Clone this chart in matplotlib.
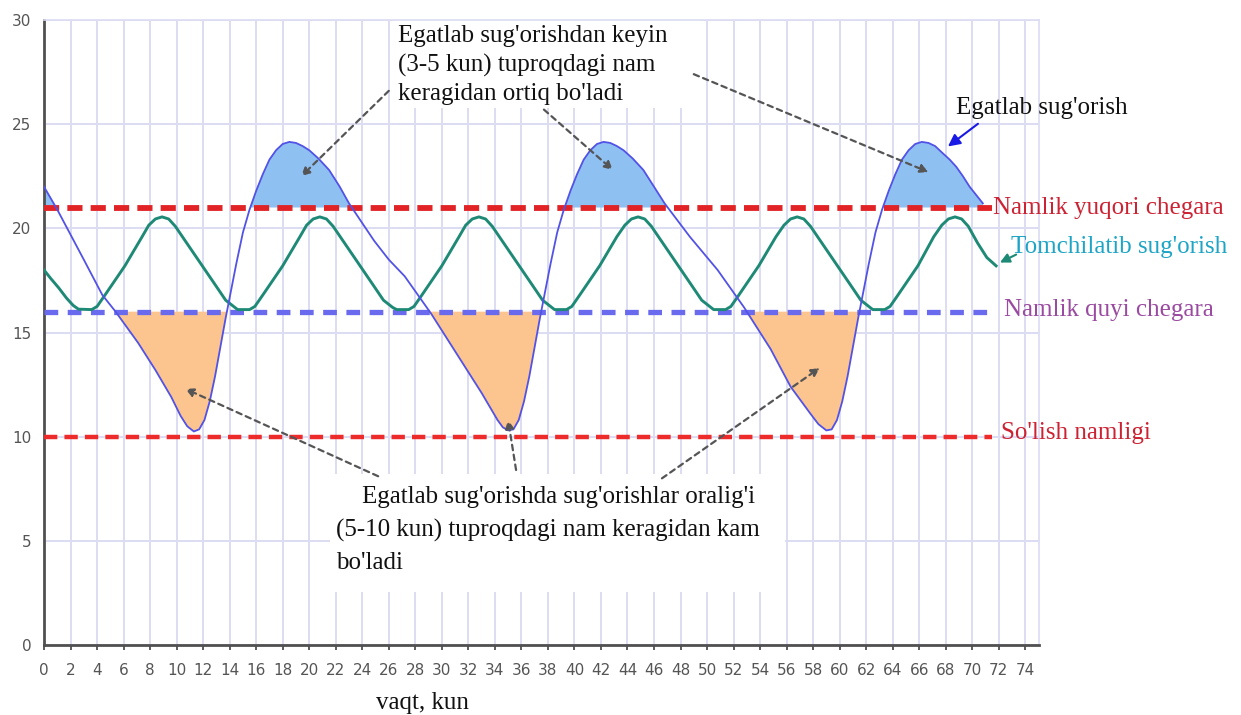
import matplotlib
matplotlib.use("Agg")
import matplotlib.pyplot as plt
from matplotlib.patches import Rectangle
import numpy as np

# ---------------- data ----------------
furrow_x = [0.0, 1.0, 2.0, 3.0, 4.4, 5.4, 7.1, 8.4, 9.6, 10.3, 10.8, 11.3, 11.7, 12.1, 12.5,
            12.9, 13.3, 13.7, 14.1, 14.5, 15.0, 15.5, 16.0, 16.5, 17.0, 17.5, 18.0, 18.5,
            19.0, 19.5, 20.0, 20.7, 21.5, 22.3, 23.0, 24.9, 26.0, 27.2, 28.2, 29.2, 30.5,
            31.7, 33.0, 34.2, 34.6, 35.0, 35.4, 35.8, 36.2, 36.6, 37.0, 37.4, 37.8, 38.2,
            38.7, 39.2, 39.7, 40.2, 40.7, 41.2, 41.7, 42.2, 42.7, 43.2, 43.7, 44.4, 45.2,
            46.0, 46.8, 48.7, 50.8, 52.8, 53.5, 54.8, 56.3, 57.8, 58.4, 59.0, 59.4, 59.8,
            60.2, 60.6, 61.0, 61.4, 61.8, 62.2, 62.7, 63.2, 63.7, 64.2, 64.7, 65.2, 65.7,
            66.2, 66.7, 67.2, 67.7, 68.3, 68.8, 69.3, 69.8, 70.3, 70.8]
furrow_y = [22.0, 20.9, 19.7, 18.5, 16.8, 16.0, 14.5, 13.2, 11.9, 11.0, 10.5, 10.25, 10.35, 10.8, 11.7,
            12.9, 14.3, 15.7, 17.0, 18.3, 19.8, 20.9, 21.8, 22.6, 23.3, 23.75, 24.05, 24.15,
            24.1, 23.95, 23.75, 23.35, 22.8, 22.0, 21.2, 19.4, 18.5, 17.7, 16.8, 15.9, 14.6,
            13.4, 12.1, 10.8, 10.45, 10.3, 10.35, 10.8, 11.7, 12.9, 14.3, 15.7, 17.0, 18.3,
            19.8, 20.9, 21.8, 22.6, 23.3, 23.75, 24.05, 24.15, 24.1, 23.95, 23.75, 23.35, 22.8,
            22.0, 21.2, 19.6, 18.0, 16.2, 15.5, 14.2, 12.4, 11.1, 10.6, 10.3, 10.35, 10.8,
            11.7, 12.9, 14.3, 15.7, 17.0, 18.3, 19.8, 20.9, 21.8, 22.6, 23.3, 23.75, 24.05,
            24.15, 24.1, 23.95, 23.65, 23.3, 22.95, 22.5, 22.0, 21.6, 21.2]

drip_x = [0.0, 0.5, 1.1, 1.7, 2.2, 2.6, 3.6, 4.0, 4.6, 6.1, 7.4, 7.9, 8.4, 8.9, 9.4, 9.9,
          11.4, 12.9, 13.7, 14.4, 14.6, 15.5, 15.9, 16.5, 18.0, 19.3, 19.8, 20.3, 20.8, 21.3,
          21.8, 23.3, 24.8, 25.6, 26.3, 26.6, 27.5, 27.9, 28.5, 30.0, 31.3, 31.8, 32.3, 32.8,
          33.3, 33.8, 35.3, 36.8, 37.6, 38.3, 38.5, 39.4, 39.8, 40.4, 41.9, 43.2, 43.8, 44.3,
          44.8, 45.3, 45.8, 47.3, 48.8, 49.6, 50.3, 50.5, 51.4, 51.8, 52.4, 53.9, 55.2, 55.8,
          56.3, 56.8, 57.3, 57.8, 59.3, 60.8, 61.6, 62.3, 62.5, 63.4, 63.8, 64.4, 65.9, 67.1,
          67.7, 68.2, 68.7, 69.2, 69.7, 70.4, 71.1, 71.8]
drip_y = [18.0, 17.6, 17.15, 16.65, 16.3, 16.12, 16.1, 16.25, 16.8, 18.2, 19.6, 20.15, 20.45, 20.55, 20.45, 20.1,
          18.7, 17.3, 16.55, 16.2, 16.1, 16.1, 16.25, 16.8, 18.2, 19.6, 20.15, 20.45, 20.55, 20.45,
          20.1, 18.7, 17.3, 16.55, 16.2, 16.1, 16.1, 16.25, 16.8, 18.2, 19.6, 20.15, 20.45, 20.55,
          20.45, 20.1, 18.7, 17.3, 16.55, 16.2, 16.1, 16.1, 16.25, 16.8, 18.2, 19.6, 20.15, 20.45,
          20.55, 20.45, 20.1, 18.7, 17.3, 16.55, 16.2, 16.1, 16.1, 16.25, 16.8, 18.2, 19.6, 20.15,
          20.45, 20.55, 20.45, 20.1, 18.7, 17.3, 16.55, 16.2, 16.1, 16.1, 16.25, 16.8, 18.2, 19.6,
          20.15, 20.45, 20.55, 20.45, 20.1, 19.3, 18.6, 18.2]

upper_limit = 21
lower_limit = 16
wilting = 10
line_end = 71.5

x_ticks = list(range(0, 75, 2))
y_ticks = [0, 5, 10, 15, 20, 25, 30]

label_furrow = "Egatlab sug'orish"
label_upper = "Namlik yuqori chegara"
label_drip = "Tomchilatib sug'orish"
label_lower = "Namlik quyi chegara"
label_wilt = "So'lish namligi"
note_top = "Egatlab sug'orishdan keyin\n(3-5 kun) tuproqdagi nam\nkeragidan ortiq bo'ladi"
note_bottom_1 = "Egatlab sug'orishda sug'orishlar oralig'i"
note_bottom_2 = "(5-10 kun) tuproqdagi nam keragidan kam"
note_bottom_3 = "bo'ladi"
x_label = "vaqt, kun"

# ---------------- figure ----------------
serif = ["Liberation Serif", "DejaVu Serif"]
fig = plt.figure(figsize=(12.41, 7.15), dpi=100)
ax = fig.add_axes([0.03546, 0.0979, 0.8014, 0.8741])
ax.set_xlim(0, 75)
ax.set_ylim(0, 30)
ax.set_axisbelow(True)

grid_col = "#dcdcf3"
ax.set_xticks(x_ticks)
ax.set_yticks(y_ticks)
ax.grid(True, color=grid_col, lw=1.4)
for s in ("top", "right"):
    ax.spines[s].set_color(grid_col)
    ax.spines[s].set_linewidth(1.2)
for s in ("left", "bottom"):
    ax.spines[s].set_color("#505050")
    ax.spines[s].set_linewidth(2.0)
ax.tick_params(axis="x", length=3.6, width=1.3, color="#505050", pad=9,
               labelsize=11, labelcolor="#555555")
ax.tick_params(axis="y", length=0, pad=9, labelsize=11, labelcolor="#555555")
for lab in ax.get_xticklabels() + ax.get_yticklabels():
    lab.set_family(["Liberation Sans Narrow", "DejaVu Sans"])

# white boxes behind notes
ax.add_patch(Rectangle((0.353, 0.859), 0.307, 0.17, transform=ax.transAxes,
                       facecolor="white", edgecolor="none", zorder=1, clip_on=False))
ax.add_patch(Rectangle((0.2876, 0.0848), 0.4575, 0.189, transform=ax.transAxes,
                       facecolor="white", edgecolor="none", zorder=1))

fx = np.array(furrow_x)
fy = np.array(furrow_y)
ax.fill_between(fx, fy, upper_limit, where=fy >= upper_limit, interpolate=True,
                facecolor="#8fc0f2", edgecolor="none", zorder=2)
ax.fill_between(fx, fy, lower_limit, where=fy <= lower_limit, interpolate=True,
                facecolor="#fcc48f", edgecolor="none", zorder=2)

# limit lines
ax.hlines(upper_limit, 0, line_end, colors="#e22326", lw=4.2,
          linestyles=(0, (2.6, 1.4)), zorder=3)
ax.hlines(lower_limit, 0, line_end, colors="#6a6aee", lw=3.8,
          linestyles=(0, (2.6, 1.8)), zorder=3)
ax.hlines(wilting, 0, line_end, colors="#ee2b2b", lw=3.2,
          linestyles=(0, (3.0, 1.6)), zorder=3)

ax.plot(drip_x, drip_y, color="#1e8a76", lw=2.1, zorder=4, solid_joinstyle="round")
ax.plot(furrow_x, furrow_y, color="#5252e6", lw=1.3, zorder=5, solid_joinstyle="round")

# right labels
fs = 18
ax.text(68.8, 25.8, label_furrow, family=serif, fontsize=fs, color="#111111",
        va="center", ha="left", clip_on=False)
ax.text(71.6, 21.0, label_upper, family=serif, fontsize=fs, color="#cc2233",
        va="center", ha="left", clip_on=False)
ax.text(72.9, 19.1, label_drip, family=serif, fontsize=fs, color="#1ea5c5",
        va="center", ha="left", clip_on=False)
ax.text(72.4, 16.1, label_lower, family=serif, fontsize=fs, color="#9a4aa0",
        va="center", ha="left", clip_on=False)
ax.text(72.2, 10.2, label_wilt, family=serif, fontsize=fs, color="#cc2233",
        va="center", ha="left", clip_on=False)

ax.annotate("", xy=(68.0, 23.85), xytext=(70.6, 25.1),
            arrowprops=dict(arrowstyle="-|>", color="#1a1ae6", lw=1.5,
                            mutation_scale=18), zorder=6, annotation_clip=False)
ax.annotate("", xy=(71.9, 18.3), xytext=(73.5, 18.8),
            arrowprops=dict(arrowstyle="-|>", color="#1e8a76", lw=1.5,
                            mutation_scale=14), zorder=6, annotation_clip=False)

# notes
ax.text(26.7, 29.75, note_top, family=serif, fontsize=18, color="#111111",
        va="top", ha="left", linespacing=1.37, zorder=6, clip_on=False)
ax.text(24.0, 7.1, note_bottom_1, family=serif, fontsize=18, color="#111111",
        va="center", ha="left", zorder=6)
ax.text(22.0, 5.5, note_bottom_2, family=serif, fontsize=18, color="#111111",
        va="center", ha="left", zorder=6)
ax.text(22.0, 3.95, note_bottom_3, family=serif, fontsize=18, color="#111111",
        va="center", ha="left", zorder=6)
ax.text(25.0, -2.8, x_label, family=serif, fontsize=18, color="#111111",
        va="center", ha="left", clip_on=False)

arrow_kw = dict(arrowstyle="-|>", color="#555555", lw=1.6, linestyle=(0, (2.5, 2)),
                mutation_scale=12, shrinkA=0, shrinkB=0)
arrows = [((19.4, 22.5), (26.0, 26.6)),
          ((42.9, 22.8), (37.7, 25.7)),
          ((66.7, 22.7), (49.0, 27.4)),
          ((10.65, 12.3), (25.2, 8.1)),
          ((35.0, 10.8), (35.6, 8.4)),
          ((58.5, 13.3), (46.6, 8.0))]
for head, tail in arrows:
    ax.annotate("", xy=head, xytext=tail, arrowprops=arrow_kw, zorder=7,
                annotation_clip=False)

fig.savefig("out.png", dpi=100, facecolor="white")
